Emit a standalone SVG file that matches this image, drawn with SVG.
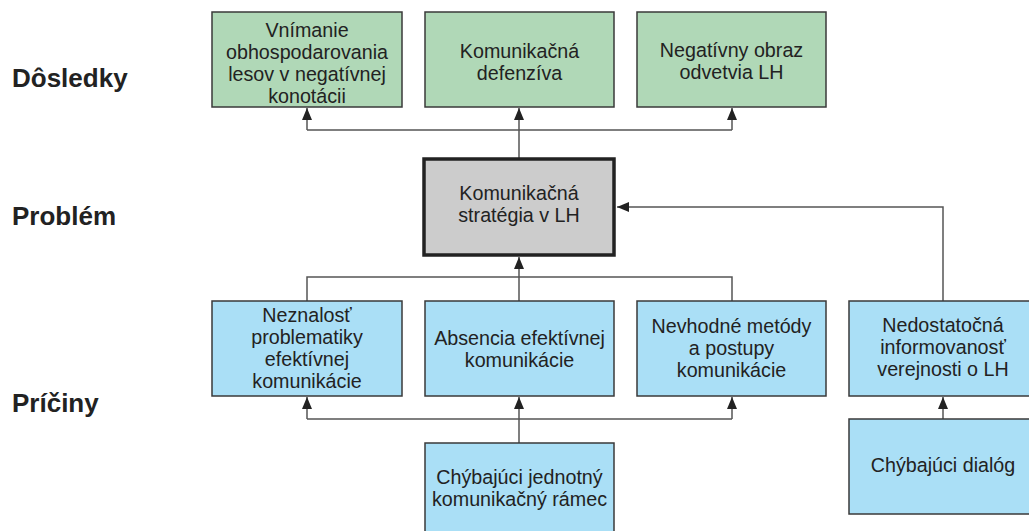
<svg xmlns="http://www.w3.org/2000/svg" width="1029" height="531" viewBox="0 0 1029 531">
  <style>
    .box { stroke: #3a3a3a; stroke-width: 1.5; }
    .effect { fill: #b0d8b7; }
    .cause { fill: #aadff6; }
    .problem { fill: #cccccc; stroke: #222; stroke-width: 3.5; }
    .t { font-family: "Liberation Sans", Arial, sans-serif; font-size: 19.7px; fill: #222; text-anchor: middle; }
    .lvl { font-family: "Liberation Sans", Arial, sans-serif; font-size: 26px; font-weight: bold; fill: #222; }
    .c { fill: none; stroke: #555; stroke-width: 1.5; }
  </style>
  <defs>
    <marker id="arr" markerUnits="userSpaceOnUse" markerWidth="12" markerHeight="10" refX="12" refY="5" orient="auto">
      <path d="M0,0 L12,5 L0,10 z" fill="#222"/>
    </marker>
  </defs>
  <rect width="1029" height="531" fill="#fff"/>

  <!-- level labels -->
  <g id="levels">
    <text class="lvl" x="12" y="87">Dôsledky</text>
    <text class="lvl" x="12" y="225">Problém</text>
    <text class="lvl" x="12" y="412">Príčiny</text>
  </g>

  <!-- connectors -->
  <g id="connectors">
    <path class="c" d="M519,158 V130"/>
    <path class="c" d="M307,130 H732"/>
    <path class="c" d="M307,130 V108" marker-end="url(#arr)"/>
    <path class="c" d="M519,130 V108" marker-end="url(#arr)"/>
    <path class="c" d="M732,130 V108" marker-end="url(#arr)"/>

    <path class="c" d="M943,301 V207 H617" marker-end="url(#arr)"/>

    <path class="c" d="M307,301 V277 H732 V301"/>
    <path class="c" d="M519,301 V277"/>
    <path class="c" d="M519,277 V257" marker-end="url(#arr)"/>

    <path class="c" d="M519,443 V419"/>
    <path class="c" d="M307,419 H732"/>
    <path class="c" d="M307,419 V397" marker-end="url(#arr)"/>
    <path class="c" d="M519,419 V397" marker-end="url(#arr)"/>
    <path class="c" d="M732,419 V397" marker-end="url(#arr)"/>

    <path class="c" d="M943,419 V397" marker-end="url(#arr)"/>
  </g>

  <!-- consequences -->
  <g id="effect1">
    <rect class="box effect" x="212" y="12" width="190" height="95"/>
    <text class="t" x="307" y="37">Vnímanie</text>
    <text class="t" x="307" y="59">obhospodarovania</text>
    <text class="t" x="307" y="81">lesov v negatívnej</text>
    <text class="t" x="307" y="103">konotácii</text>
  </g>
  <g id="effect2">
    <rect class="box effect" x="425" y="12" width="189" height="95"/>
    <text class="t" x="519.5" y="58">Komunikačná</text>
    <text class="t" x="519.5" y="80">defenzíva</text>
  </g>
  <g id="effect3">
    <rect class="box effect" x="637" y="12" width="189" height="95"/>
    <text class="t" x="731.5" y="57">Negatívny obraz</text>
    <text class="t" x="731.5" y="79">odvetvia LH</text>
  </g>

  <!-- problem -->
  <g id="problem">
    <rect class="problem" x="424" y="159" width="190" height="96"/>
    <text class="t" x="519" y="200">Komunikačná</text>
    <text class="t" x="519" y="222">stratégia v LH</text>
  </g>

  <!-- causes -->
  <g id="cause1">
    <rect class="box cause" x="212" y="301" width="190" height="95"/>
    <text class="t" x="307" y="322">Neznalosť</text>
    <text class="t" x="307" y="344">problematiky</text>
    <text class="t" x="307" y="366">efektívnej</text>
    <text class="t" x="307" y="388">komunikácie</text>
  </g>
  <g id="cause2">
    <rect class="box cause" x="425" y="301" width="189" height="95"/>
    <text class="t" x="519.5" y="345">Absencia efektívnej</text>
    <text class="t" x="519.5" y="367">komunikácie</text>
  </g>
  <g id="cause3">
    <rect class="box cause" x="637" y="301" width="189" height="95"/>
    <text class="t" x="731.5" y="333">Nevhodné metódy</text>
    <text class="t" x="731.5" y="355">a postupy</text>
    <text class="t" x="731.5" y="377">komunikácie</text>
  </g>
  <g id="cause4">
    <rect class="box cause" x="849" y="301" width="189" height="95"/>
    <text class="t" x="943" y="332">Nedostatočná</text>
    <text class="t" x="943" y="354">informovanosť</text>
    <text class="t" x="943" y="376">verejnosti o LH</text>
  </g>
  <g id="root1">
    <rect class="box cause" x="425" y="443" width="189" height="95"/>
    <text class="t" x="519.5" y="484">Chýbajúci jednotný</text>
    <text class="t" x="519.5" y="506">komunikačný rámec</text>
  </g>
  <g id="root2">
    <rect class="box cause" x="849" y="419" width="189" height="95"/>
    <text class="t" x="943" y="472">Chýbajúci dialóg</text>
  </g>
</svg>
